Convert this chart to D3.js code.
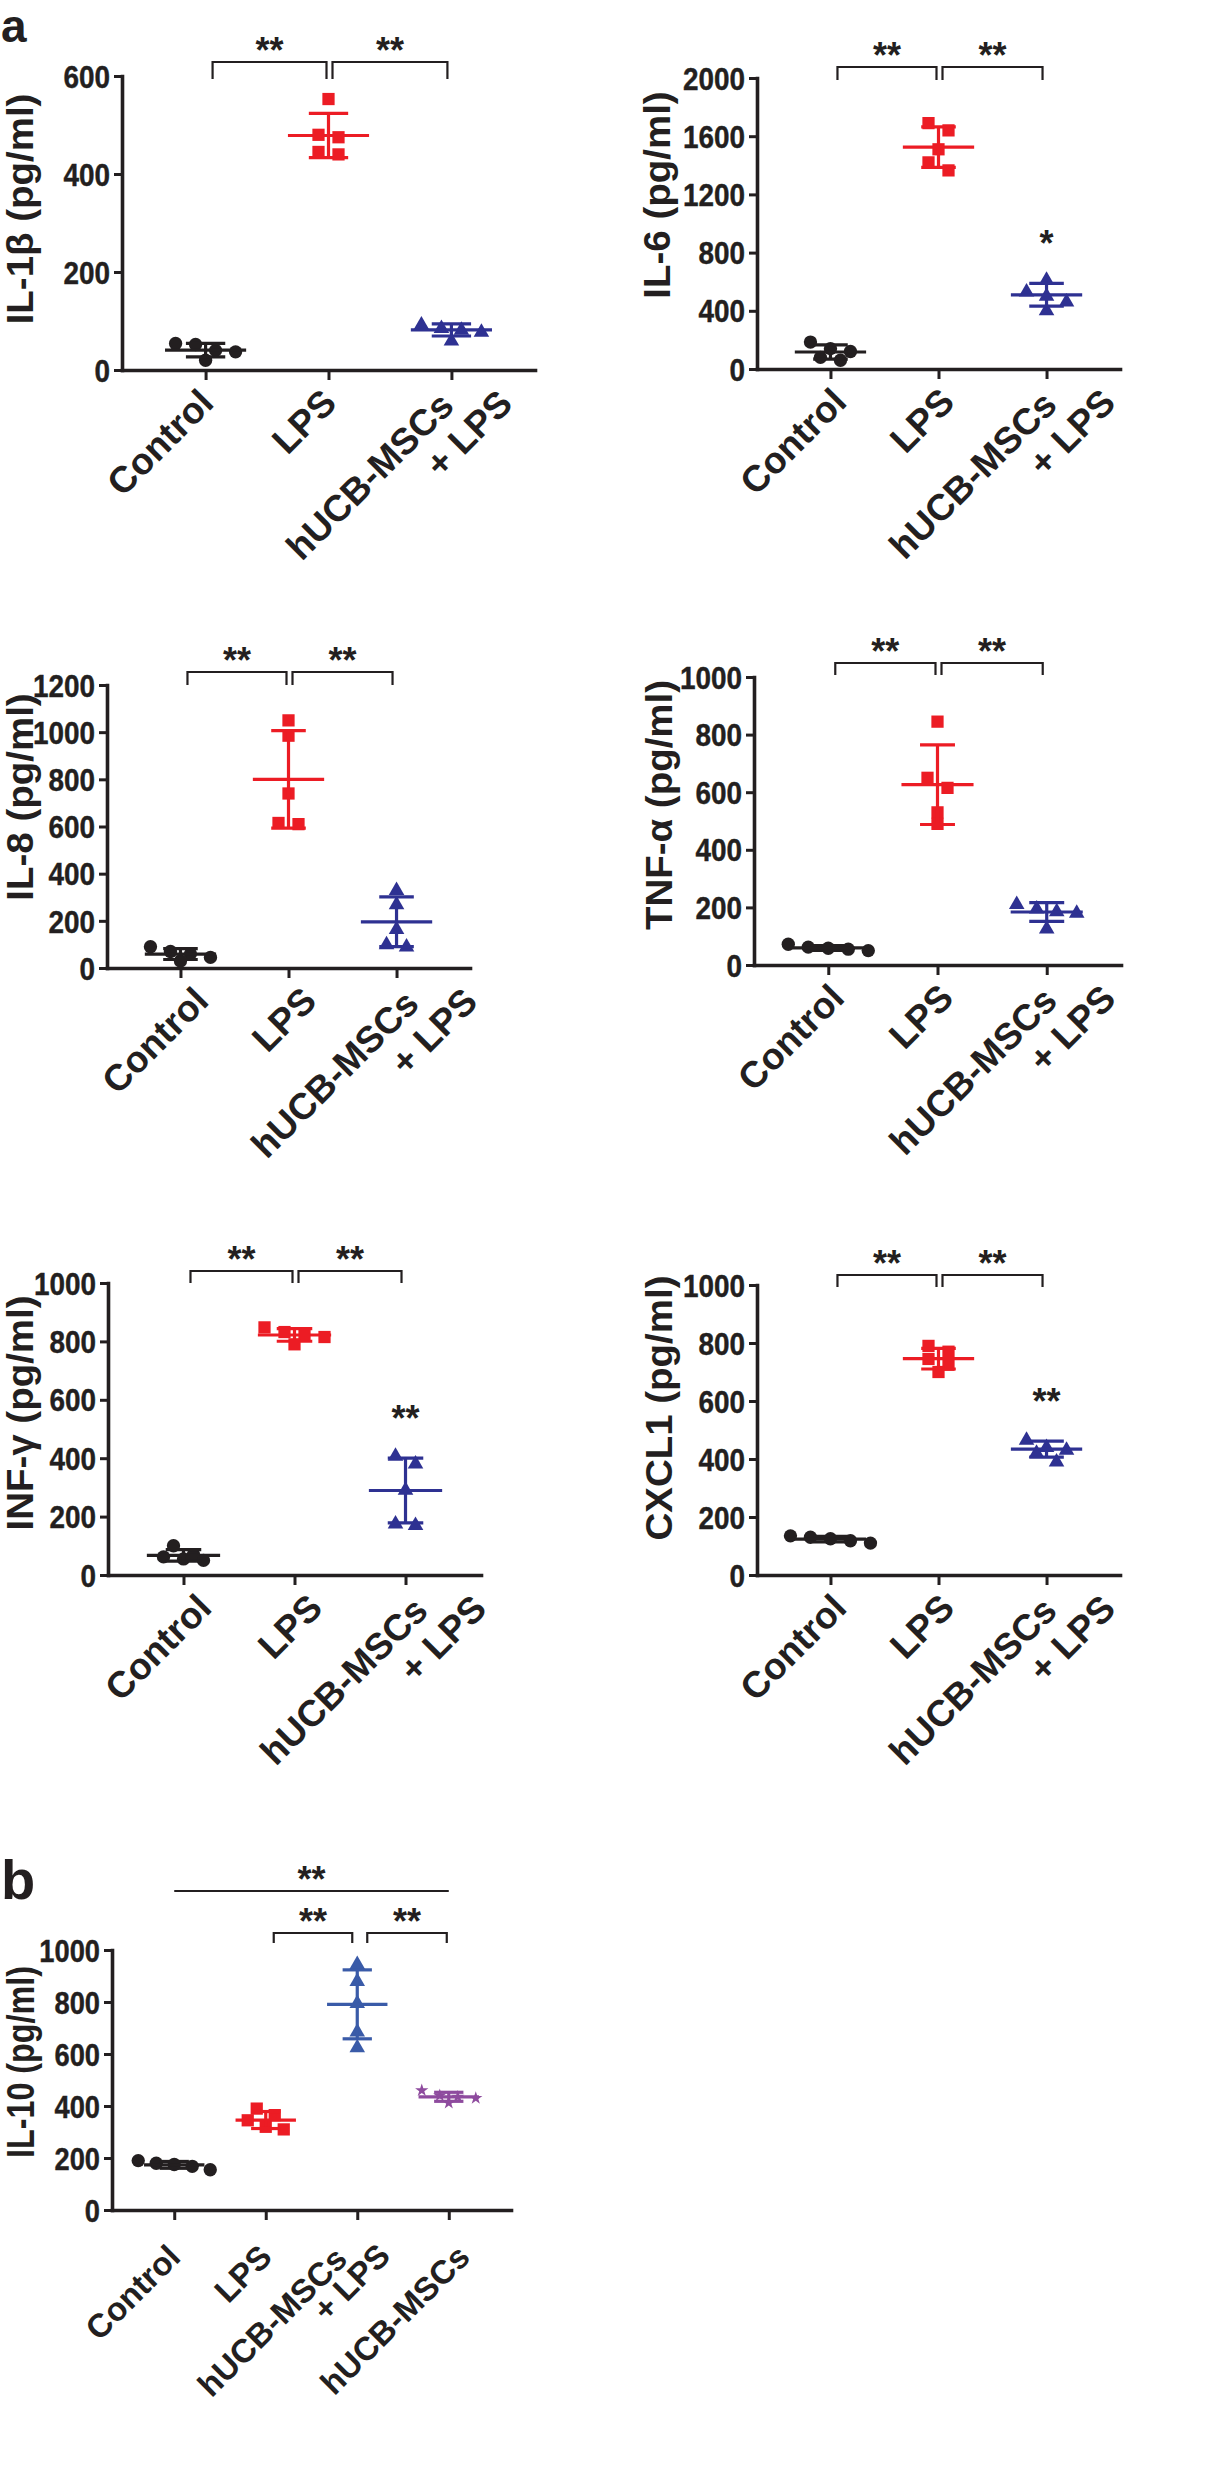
<!DOCTYPE html>
<html><head><meta charset="utf-8">
<script src="https://cdn.jsdelivr.net/npm/d3@7"></script>
<style>
body{margin:0;background:#fff}
svg{display:block}
text{font-family:"Liberation Sans",Arial,Helvetica,sans-serif;font-weight:bold;fill:#231f20}
</style>
</head><body>
<svg id="chart" width="1230" height="2481"></svg>
<script>
// ---------------- data ----------------
const groupsA = ["Control", "LPS", "hUCB-MSCs + LPS"];
const groupsB = ["Control", "LPS", "hUCB-MSCs + LPS", "hUCB-MSCs"];

const il1bControl = [54, 52, 40, 37, 20];
const il1bLPS     = [553, 480, 475, 445, 440];
const il1bMSC     = [95, 88, 84, 80, 62];

const il6Control = [185, 140, 120, 80, 60];
const il6LPS     = [1690, 1640, 1510, 1420, 1365];
const il6MSC     = [620, 540, 510, 470, 410];

const il8Control = [90, 70, 60, 45, 30];
const il8LPS     = [1050, 985, 740, 615, 610];
const il8MSC     = [335, 275, 170, 105, 95];

const tnfControl = [72, 62, 58, 55, 50];
const tnfLPS     = [845, 650, 615, 530, 490];
const tnfMSC     = [215, 200, 190, 185, 130];

const infControl = [100, 70, 62, 55, 50];
const infLPS     = [848, 832, 825, 815, 790];
const infMSC     = [412, 385, 295, 180, 175];

const cxcl1Control = [135, 130, 125, 118, 110];
const cxcl1LPS     = [790, 770, 745, 725, 700];
const cxcl1MSC     = [470, 445, 435, 425, 395];

const il10Control = [190, 180, 175, 168, 155];
const il10LPS     = [390, 365, 345, 320, 310];
const il10MSCLPS  = [950, 885, 800, 690, 630];
const il10MSC     = [460, 440, 435, 430, 412];

const ticksIL1b = [0, 200, 400, 600];
const ticksIL6  = [0, 400, 800, 1200, 1600, 2000];
const ticksIL8  = [0, 200, 400, 600, 800, 1000, 1200];
const ticks1000 = [0, 200, 400, 600, 800, 1000];

const sigPairsA = [[0, 1, "**"], [1, 2, "**"]];
const sigPairsB = [[1, 2, "**"], [2, 3, "**"]];
const sigSpanB  = [0, 3, "**"];
const groupStarsIL6   = [[2, "*"]];
const groupStarsINF   = [[2, "**"]];
const groupStarsCXCL1 = [[2, "**"]];

// ---------------- styles ----------------
const ink = "#231f20";
const red = "#ec1c24";
const navy = "#2e3192";
const blueB = "#3a5ba8";
const purple = "#8e4b9e";
const colorsA = [ink, red, navy];
const colorsB = [ink, red, blueB, purple];
const shapesA = [d3.symbolCircle, d3.symbolSquare, d3.symbolTriangle];
const shapesB = [d3.symbolCircle, d3.symbolSquare, d3.symbolTriangle, d3.symbolStar];
const shapeSize = new Map([[d3.symbolCircle, 140], [d3.symbolSquare, 150], [d3.symbolTriangle, 105], [d3.symbolStar, 55]]);

const labA = {fs: 37, dx: 2, dy: 35, l1: [-6, -2], l2: [37, 38]};
const labB = {fs: 33, dx: 8, dy: 49, l1: [-13, -10], l2: [20, 18]};
function lab(base, dx, shifts) { return Object.assign({}, base, {dx: base.dx + dx, shifts: shifts || []}); }

const panels = [
  {title: "IL-1β (pg/ml)", groups: groupsA, data: [il1bControl, il1bLPS, il1bMSC], ticks: ticksIL1b, max: 600,
   axisX: 122, xEnd: 535, y0: 370, yTop: 76, titleX: 33, titleY: 209, brY: 62, drop: 17,
   pairs: sigPairsA, stars: [], lab: lab(labA, 8)},
  {title: "IL-6 (pg/ml)", groups: groupsA, data: [il6Control, il6LPS, il6MSC], ticks: ticksIL6, max: 2000,
   axisX: 757, xEnd: 1120, y0: 369, yTop: 78, titleX: 670, titleY: 195, brY: 67, drop: 13,
   pairs: sigPairsA, stars: groupStarsIL6, lab: lab(labA, 16)},
  {title: "IL-8 (pg/ml)", groups: groupsA, data: [il8Control, il8LPS, il8MSC], ticks: ticksIL8, max: 1200,
   axisX: 107, xEnd: 470, y0: 968, yTop: 685, titleX: 33, titleY: 797, brY: 672, drop: 13,
   pairs: sigPairsA, stars: [], lab: lab(labA, 28)},
  {title: "TNF-α (pg/ml)", groups: groupsA, data: [tnfControl, tnfLPS, tnfMSC], ticks: ticks1000, max: 1000,
   axisX: 754, xEnd: 1121, y0: 965, yTop: 677, titleX: 672, titleY: 805, brY: 663, drop: 12,
   pairs: sigPairsA, stars: [], lab: lab(labA, 16)},
  {title: "INF-γ (pg/ml)", groups: groupsA, data: [infControl, infLPS, infMSC], ticks: ticks1000, max: 1000,
   axisX: 108, xEnd: 481, y0: 1575, yTop: 1283, titleX: 33, titleY: 1413, brY: 1271, drop: 12,
   pairs: sigPairsA, stars: groupStarsINF, lab: lab(labA, 28)},
  {title: "CXCL1 (pg/ml)", groups: groupsA, data: [cxcl1Control, cxcl1LPS, cxcl1MSC], ticks: ticks1000, max: 1000,
   axisX: 757, xEnd: 1120, y0: 1575, yTop: 1285, titleX: 672, titleY: 1408, brY: 1275, drop: 12,
   pairs: sigPairsA, stars: groupStarsCXCL1, lab: lab(labA, 16)},
  {title: "IL-10 (pg/ml)", groups: groupsB, data: [il10Control, il10LPS, il10MSCLPS, il10MSC], ticks: ticks1000, max: 1000,
   axisX: 112, xEnd: 511, y0: 2210, yTop: 1950, titleX: 34, titleY: 2062, brY: 1933, drop: 10,
   pairs: sigPairsB, stars: [], span: sigSpanB, spanY: 1891, lab: lab(labB, 0, [0, 0, 0, 15]), panelB: true}
];

const labelLines = {"Control": ["Control"], "LPS": ["LPS"], "hUCB-MSCs + LPS": ["hUCB-MSCs", "+ LPS"], "hUCB-MSCs": ["hUCB-MSCs"]};

const svg = d3.select("#chart");

// panel letters
svg.append("text").attr("x", 1).attr("y", 42).attr("font-size", 46).text("a");
svg.append("text").attr("x", 1).attr("y", 1899).attr("font-size", 56).text("b");

function swarm(vals, y, s, thr) {
  const pts = vals.map(v => ({v, py: y(v)})).sort((a, b) => a.py - b.py);
  const rows = []; let cur = null;
  pts.forEach(pt => {
    if (cur && pt.py - cur[0].py < thr) cur.push(pt); else { cur = [pt]; rows.push(cur); }
  });
  rows.forEach(r => r.forEach((pt, i) => pt.off = (i - (r.length - 1) / 2) * s));
  return pts;
}

panels.forEach(p => {
  const g = svg.append("g");
  const y = d3.scaleLinear().domain([0, p.max]).range([p.y0, p.yTop]);
  const x = d3.scalePoint().domain(p.groups).range([p.axisX, p.xEnd]).padding(0.68);
  const step = x.step();
  const colors = p.panelB ? colorsB : colorsA;
  const shapes = p.panelB ? shapesB : shapesA;
  const tickSx = p.panelB ? 0.88 : 0.9;

  // y axis
  const ya = g.append("g").attr("transform", `translate(${p.axisX},0)`)
    .call(d3.axisLeft(y).tickValues(p.ticks).tickFormat(d3.format("d")).tickSize(8).tickSizeOuter(0).tickPadding(4));
  ya.select(".domain").attr("stroke", ink).attr("stroke-width", 3.6).attr("stroke-linecap", "square");
  ya.selectAll(".tick line").attr("stroke", ink).attr("stroke-width", 3);
  ya.selectAll(".tick text").attr("font-size", 31).attr("fill", ink)
    .attr("stroke", ink).attr("stroke-width", 0.4)
    .attr("x", -12 / tickSx).attr("transform", `scale(${tickSx},1)`).attr("dy", "0.36em");

  // x axis
  const xa = g.append("g").attr("transform", `translate(0,${p.y0})`)
    .call(d3.axisBottom(x).tickSize(10).tickSizeOuter(0).tickFormat(""));
  xa.select(".domain").attr("stroke", ink).attr("stroke-width", 3.6).attr("stroke-linecap", "square");
  xa.selectAll(".tick line").attr("stroke", ink).attr("stroke-width", 3);

  // y title
  const tfs = p.panelB ? 38 : 37;
  const tsx = p.panelB ? 0.85 : 1.04;
  g.append("text")
    .attr("transform", `translate(${p.titleX},${p.titleY}) rotate(-90) scale(${tsx},1)`)
    .attr("text-anchor", "middle").attr("font-size", tfs).text(p.title);

  // x labels
  const L = p.lab;
  p.groups.forEach((grp, i) => {
    const tx = x(grp) + L.dx + (L.shifts[i] || 0), ty = p.y0 + L.dy;
    const lg = g.append("g").attr("transform", `translate(${tx},${ty}) rotate(-45)`);
    const lines = labelLines[grp];
    if (lines.length === 1) {
      lg.append("text").attr("text-anchor", "end").attr("font-size", L.fs).text(lines[0]);
    } else {
      lg.append("text").attr("text-anchor", "end").attr("font-size", L.fs)
        .attr("x", L.l1[0]).attr("y", L.l1[1]).text(lines[0]);
      lg.append("text").attr("text-anchor", "end").attr("font-size", L.fs)
        .attr("x", L.l2[0]).attr("y", L.l2[1]).text(lines[1]);
    }
  });

  // points
  p.data.forEach((vals, i) => {
    const cx = x(p.groups[i]);
    const pts = swarm(vals, y, p.panelB ? 18 : 20, 11);
    const sym = d3.symbol().type(shapes[i]).size(shapeSize.get(shapes[i]));
    g.append("g").selectAll("path").data(pts).join("path")
      .attr("d", sym)
      .attr("transform", d => `translate(${cx + d.off},${d.py + (shapes[i] === d3.symbolTriangle ? 1.5 : 0)})`)
      .attr("fill", colors[i]);
  });

  // mean + SD
  p.data.forEach((vals, i) => {
    const cx = x(p.groups[i]);
    const m = d3.mean(vals), sd = d3.deviation(vals);
    const eg = g.append("g").attr("stroke", colors[i]).attr("stroke-width", 3.2);
    const mh = step * 0.33, ch = step * 0.16;
    eg.append("line").attr("x1", cx).attr("x2", cx).attr("y1", y(m - sd)).attr("y2", y(m + sd));
    eg.append("line").attr("x1", cx - ch).attr("x2", cx + ch).attr("y1", y(m + sd)).attr("y2", y(m + sd));
    eg.append("line").attr("x1", cx - ch).attr("x2", cx + ch).attr("y1", y(m - sd)).attr("y2", y(m - sd));
    eg.append("line").attr("x1", cx - mh).attr("x2", cx + mh).attr("y1", y(m)).attr("y2", y(m));
  });

  // significance brackets
  const t = p.groups.map(gr => x(gr));
  p.pairs.forEach(([a, b, s], k) => {
    let xa1, xb1;
    if (p.panelB) { xa1 = k === 0 ? t[a] + 8 : t[a] + 10; xb1 = k === 0 ? t[b] - 5 : t[b] - 2; }
    else { xa1 = k === 0 ? t[a] + 7 : t[a] + 4; xb1 = k === 0 ? t[b] - 2 : t[b] - 4; }
    g.append("path")
      .attr("d", `M${xa1},${p.brY + p.drop}V${p.brY}H${xb1}V${p.brY + p.drop}`)
      .attr("fill", "none").attr("stroke", ink).attr("stroke-width", 2.2);
    g.append("text").attr("x", (xa1 + xb1) / 2).attr("y", p.brY + 1)
      .attr("text-anchor", "middle").attr("font-size", 36).text(s);
  });
  if (p.span) {
    const [a, b, s] = p.span;
    g.append("line").attr("x1", t[a]).attr("x2", t[b]).attr("y1", p.spanY).attr("y2", p.spanY)
      .attr("stroke", ink).attr("stroke-width", 2.2);
    g.append("text").attr("x", (t[a] + t[b]) / 2).attr("y", p.spanY + 1)
      .attr("text-anchor", "middle").attr("font-size", 36).text(s);
  }
  p.stars.forEach(([i, s]) => {
    const vals = p.data[i];
    const top = y(d3.mean(vals) + d3.deviation(vals));
    g.append("text").attr("x", t[i]).attr("y", top - 47 + 20)
      .attr("text-anchor", "middle").attr("font-size", 36).text(s);
  });
});
</script>
</body></html>
